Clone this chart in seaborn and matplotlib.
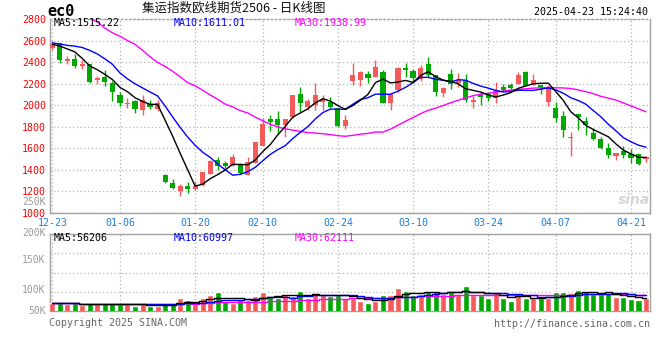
import numpy as np
import pandas as pd
import matplotlib
matplotlib.use("Agg")
import matplotlib.pyplot as plt
import seaborn as sns

# ---- 日期刻度 ----
date_labels = ["12-23", "01-06", "01-20", "02-10", "02-24", "03-10", "03-24", "04-07", "04-21"]
date_pos = [0, 9, 19, 28, 38, 48, 58, 67, 77]

# ---- 日K数据 (开, 收, 高, 低) ----
open_px = [2535, 2573, 2410, 2425, 2362, 2379, 2236, 2263, 2210, 2098,
           2008, 2037, 1956, 2012, 1965, 1350, 1275, 1207, 1250, 1222,
           1258, 1366, 1492, 1465, 1436, 1450, 1353, 1466, 1625, 1875,
           1875, 1818, 1888, 2102, 1980, 2001, 2033, 2032, 1977, 1808,
           2222, 2238, 2292, 2262, 2306, 2022, 2140, 2341, 2322, 2240,
           2383, 2276, 2115, 2292, 2207, 2236, 2033, 2092, 2108, 2063,
           2168, 2190, 2195, 2307, 2186, 2190, 2032, 1970, 1900, 1700,
           1918, 1857, 1740, 1690, 1603, 1528, 1572, 1550, 1550, 1497]
close_px = [2565, 2422, 2430, 2362, 2385, 2220, 2248, 2214, 2122, 2023,
            2020, 1968, 2044, 1985, 2020, 1292, 1230, 1250, 1222, 1255,
            1378, 1486, 1440, 1436, 1520, 1368, 1475, 1660, 1826, 1846,
            1818, 1868, 2092, 2016, 2040, 2092, 2062, 1980, 1808, 1862,
            2276, 2306, 2253, 2352, 2024, 2100, 2346, 2330, 2256, 2345,
            2278, 2125, 2160, 2200, 2230, 2048, 2052, 2080, 2070, 2130.6,
            2140, 2164, 2280, 2180, 2230, 2165, 2170, 1886, 1766, 1705,
            1888, 1821, 1687, 1604, 1534, 1557, 1534, 1512, 1451, 1522.1]
high_px = [2600, 2575, 2460, 2475, 2415, 2380, 2272, 2325, 2225, 2120,
           2068, 2052, 2092, 2045, 2047, 1366, 1320, 1267, 1288, 1297,
           1380, 1488, 1523, 1481, 1550, 1466, 1518, 1662, 1879, 1909,
           1946, 1872, 2094, 2169, 2062, 2206, 2093, 2078, 1978, 1909,
           2390, 2316, 2322, 2420, 2328, 2108, 2359, 2393, 2338, 2375,
           2445, 2285, 2165, 2338, 2298, 2292, 2087, 2124, 2124, 2215,
           2200, 2209, 2305, 2322, 2286, 2191, 2190, 2032, 1949, 1756,
           1918, 1888, 1787, 1704, 1649, 1560, 1619, 1594, 1551, 1533]
low_px = [2515, 2392, 2378, 2350, 2332, 2210, 2195, 2180, 2040, 1992,
          1971, 1932, 1908, 1968, 1948, 1282, 1220, 1162, 1185, 1215,
          1255, 1360, 1402, 1420, 1435, 1359, 1352, 1464, 1624, 1765,
          1735, 1704, 1886, 1940, 1955, 1955, 1955, 1970, 1802, 1778,
          2185, 2176, 2206, 2260, 2022, 1955, 2124, 2261, 2206, 2225,
          2261, 2084, 2078, 2154, 2169, 2032, 1977, 2001, 2041, 2016,
          2124, 2139, 2194, 2179, 2185, 2108, 1995, 1848, 1701, 1533,
          1772, 1726, 1680, 1597, 1511, 1496, 1511, 1466, 1441, 1472]

# 成交量 (K手)
volume_k = [49, 48, 46, 48, 45, 48, 46, 48, 48, 46,
            47, 44, 47, 44, 44, 47, 47, 56, 54, 47,
            57, 61, 66, 51, 48, 54, 54, 60, 66, 60,
            57, 64, 60, 69, 57, 64, 62, 60, 61, 57,
            57, 52, 48, 52, 61, 61, 74, 68, 61, 64,
            69, 69, 64, 67, 64, 77, 62, 61, 57, 67,
            57, 51, 64, 57, 56, 57, 56, 67, 67, 64.36,
            70, 68, 63, 63, 64.94, 58.5, 57.5, 54.5, 54, 56.53]

# 图中读出的均线起始段 (窗口之前的数据不在图内)
ma5_head = [2565, 2548, 2522, 2495]
ma10_head = [2578, 2568, 2555, 2548, 2535, 2508, 2475, 2430, 2380]
ma30_head = [2990, 2950, 2910, 2880, 2840, 2805, 2772, 2715, 2672, 2640,
             2600, 2565, 2510, 2450, 2397, 2360, 2315, 2265, 2210, 2180,
             2140, 2095, 2055, 2010, 1985, 1950, 1928, 1890, 1855]

# 成交量坐标标注 (新浪图上的位置, 像素)
vol_tick_text = ["50K", "100K", "150K", "200K", "250K"]
vol_tick_px = [311, 290, 260, 233, 202]

RED = "#f55a5a"
GREEN = "#00a800"
GRID = "#b4b4b4"
MONO = ["DejaVu Sans Mono", "Noto Sans CJK SC"]

sns.set_theme(style="white")
plt.rcParams["font.family"] = MONO
plt.rcParams["axes.unicode_minus"] = False

df = pd.DataFrame({"open": open_px, "close": close_px, "high": high_px,
                   "low": low_px, "vol": volume_k})
df["i"] = np.arange(len(df))
df["up"] = np.where(df["close"] >= df["open"], "up", "down")


def moving(series, n, head):
    m = series.rolling(n).mean()
    m.iloc[:len(head)] = head
    return m


df["ma5"] = moving(df["close"], 5, ma5_head)
df["ma10"] = moving(df["close"], 10, ma10_head)
df["ma30"] = moving(df["close"], 30, ma30_head)
df["vma5"] = df["vol"].rolling(5, min_periods=1).mean()
df["vma10"] = df["vol"].rolling(10, min_periods=1).mean()
df["vma30"] = df["vol"].rolling(30, min_periods=1).mean()

W, H = 660, 360
fig = plt.figure(figsize=(W / 100, H / 100), dpi=100)
fig.patch.set_facecolor("white")


def fx(x):
    return x / W


def fy(y):
    return 1 - y / H


VTOP, VBOT = 234, 311
ax = fig.add_axes([fx(50), fy(213), 600 / W, (213 - 19) / H])
axv = fig.add_axes([fx(50), fy(VBOT), 600 / W, (VBOT - VTOP) / H])
xlim = (-0.31, 79.53)

# ================================
# 日K 主图
# ================================
colors = np.where(df["up"] == "up", RED, GREEN)
ax.vlines(df["i"], df["low"], df["high"], colors=colors, lw=1, zorder=3)
body_lo = np.minimum(df["open"], df["close"])
body_h = np.maximum((df["close"] - df["open"]).abs(), 8)
ax.bar(df["i"], body_h, bottom=body_lo, width=0.68, color=colors, lw=0, zorder=4)

sns.lineplot(data=df, x="i", y="ma30", color="#ff00ff", lw=1, ax=ax, zorder=5)
sns.lineplot(data=df, x="i", y="ma10", color="#0000ff", lw=1, ax=ax, zorder=5)
sns.lineplot(data=df, x="i", y="ma5", color="black", lw=1, ax=ax, zorder=6)

ax.set_xlim(*xlim)
ax.set_ylim(1000, 2800)
ax.set_yticks(range(1000, 2801, 200))
ax.set_xticks(date_pos)
ax.set_xticklabels(date_labels)
ax.set_xlabel("")
ax.set_ylabel("")
ax.tick_params(axis="y", length=0, pad=3, labelcolor="#ff0000", labelsize=7.2)
ax.tick_params(axis="x", length=0, pad=3.5, labelcolor="#1c7fd6", labelsize=7.2)
ax.grid(True, color=GRID, linestyle=(0, (1, 2)), lw=0.9)
for s in ax.spines.values():
    s.set_color("#a0a0a0")
    s.set_linewidth(1)
ax.spines["top"].set_linestyle((0, (1, 2)))

# ================================
# 成交量
# ================================
sns.barplot(data=df, x="i", y="vol", hue="up", palette={"up": RED, "down": GREEN},
            native_scale=True, dodge=False, width=0.8, saturation=1,
            legend=False, ax=axv, zorder=3)
for col, c in [("vma30", "#ff00ff"), ("vma10", "#0000ff"), ("vma5", "black")]:
    sns.lineplot(data=df, x="i", y=col, color=c, lw=1, drawstyle="steps-mid",
                 ax=axv, zorder=5)

vol_lo, vol_hi = 35, 163
axv.set_xlim(*xlim)
axv.set_ylim(vol_lo, vol_hi)
axv.set_xticks(date_pos)
axv.set_xticklabels([])
axv.set_yticks(np.linspace(vol_lo, vol_hi, 5)[1:-1])
axv.set_yticklabels([])
axv.set_xlabel("")
axv.set_ylabel("")
axv.tick_params(length=0)
axv.grid(True, color=GRID, linestyle=(0, (1, 2)), lw=0.9)
for s in axv.spines.values():
    s.set_color("#a0a0a0")
    s.set_linewidth(1)

for txt, ypx in zip(vol_tick_text, vol_tick_px):
    axv.text(-0.0075, (VBOT - ypx) / (VBOT - VTOP), txt, transform=axv.transAxes,
             ha="right", va="center", color="#9a9a9a", fontsize=7, clip_on=False)

# ================================
# 文字
# ================================
fig.text(fx(47), fy(11), "ec0", fontsize=11, fontweight="bold", color="black",
         ha="left", va="center")
fig.text(fx(142), fy(8), "集运指数欧线期货2506 - 日K线图", fontsize=9,
         family=["Noto Sans CJK SC", "DejaVu Sans"], color="#111111",
         ha="left", va="center")
fig.text(fx(648), fy(12), "2025-04-23 15:24:40", fontsize=7.2, color="black",
         ha="right", va="center")

last = df.iloc[-1]
fig.text(fx(54), fy(23), f"MA5:{last['ma5']:.2f}", fontsize=7.2, color="black", va="center")
fig.text(fx(174), fy(23), f"MA10:{last['ma10']:.2f}", fontsize=7.2, color="#0000ff", va="center")
fig.text(fx(295), fy(23), f"MA30:{last['ma30']:.2f}", fontsize=7.2, color="#ff00ff", va="center")

fig.text(fx(54), fy(238), f"MA5:{last['vma5'] * 1000:.0f}", fontsize=7.2, color="black", va="center")
fig.text(fx(174), fy(238), f"MA10:{last['vma10'] * 1000:.0f}", fontsize=7.2, color="#0000ff", va="center")
fig.text(fx(295), fy(238), f"MA30:{last['vma30'] * 1000:.0f}", fontsize=7.2, color="#ff00ff", va="center")

fig.text(fx(49), fy(323), "Copyright 2025 SINA.COM", fontsize=7.2, color="#666666", va="center")
fig.text(fx(650), fy(324), "http://finance.sina.com.cn", fontsize=7.2, color="#666666",
         ha="right", va="center")
fig.text(fx(634), fy(200), "sina", fontsize=10, fontweight="bold", style="italic",
         color="#d6d6d6", ha="center", va="center", family="DejaVu Sans")

fig.savefig("out.png", dpi=100)
